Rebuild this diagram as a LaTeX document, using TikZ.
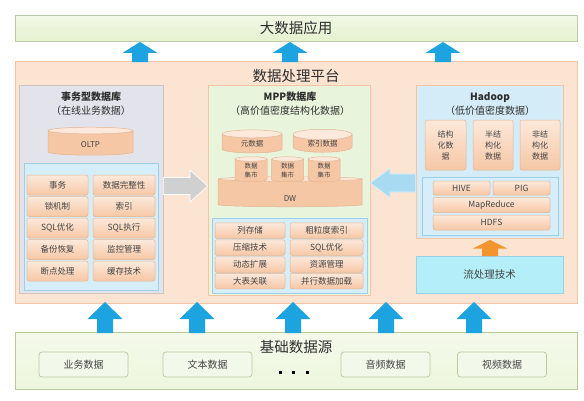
\documentclass[tikz,border=0pt]{standalone}
\usepackage{fontspec}
\setmainfont{Noto Sans CJK SC}
\usetikzlibrary{shapes.geometric,calc}
\definecolor{appgreen}{HTML}{E5F1CF}
\definecolor{appedge}{HTML}{BCCBA4}
\definecolor{platpeach}{HTML}{FCE4D3}
\definecolor{platedge}{HTML}{F1C5A6}
\definecolor{oltpgray}{HTML}{E3E3EB}
\definecolor{oltpedge}{HTML}{D3C3BE}
\definecolor{mppgreen}{HTML}{E8F4DC}
\definecolor{hdpblue}{HTML}{D4ECF8}
\definecolor{panelblue}{HTML}{D6EEF9}
\definecolor{paneledge}{HTML}{9CCFE8}
\definecolor{celltop}{HTML}{FCE9DB}
\definecolor{cellbot}{HTML}{F6C7A5}
\definecolor{celledge}{HTML}{E3B592}
\definecolor{arrowblue}{HTML}{1CA3E0}
\definecolor{arroworange}{HTML}{F3952F}
\definecolor{arrowlight}{HTML}{A8DBF2}
\definecolor{arrowgray}{HTML}{D0D0D0}
\definecolor{basegreen}{HTML}{EDF6DD}
\definecolor{srcfill}{HTML}{F3F9EA}
\definecolor{srcedge}{HTML}{B7CA9B}
\definecolor{txt}{HTML}{444444}
\definecolor{txtdark}{HTML}{2E2E2E}
\tikzset{
  layer/.style={line width=0.8pt, inner sep=0pt, draw=#1},
  layer/.default=platedge,
  panel/.style={draw=paneledge, fill=panelblue, line width=0.8pt, inner sep=0pt},
  cell/.style={draw=celledge, line width=0.5pt, top color=celltop, bottom color=cellbot,
    rounded corners=2pt, inner sep=0pt, text=txt, font=\fontsize{8.5}{10}\selectfont,
    minimum height=#1},
  cell/.default=20,
  cyl/.style={cylinder, shape border rotate=90, aspect=0.35, draw=celledge, line width=0.5pt,
    cylinder uses custom fill, cylinder body fill=cellbot, cylinder end fill=celltop,
    inner sep=0pt, text=txt, font=\fontsize{7.5}{10}\selectfont},
  bigtitle/.style={font=\fontsize{14.5}{16}\selectfont, text=txtdark, inner sep=0pt},
  dbtitle/.style={font=\fontsize{10}{14}\selectfont, align=center, text=txtdark, inner sep=0pt},
  srcbox/.style={draw=srcedge, fill=srcfill, line width=0.7pt, rounded corners=3pt,
    minimum width=89, minimum height=25, inner sep=0pt, text=txt, font=\fontsize{10}{12}\selectfont},
  blockup/.pic={\fill (-8,0) -- (-8,-14) -- (-17.5,-14) -- (0,-31) -- (17.5,-14) -- (8,-14)
    -- (8,0) -- cycle;},
}
\begin{document}
\begin{tikzpicture}[x=1pt,y=-1pt]
  \useasboundingbox[fill=white] (0,0) rectangle (584,400);

  \node[layer=appedge, top color=appgreen!50!white, bottom color=appgreen, minimum width=562,
    minimum height=26, bigtitle] (app) at (296,28) {大数据应用};
  \node[layer, fill=platpeach, minimum width=562, minimum height=242] (platform) at (296,182) {};
  \node[bigtitle] (plattitle) at (296,76) {数据处理平台};

  \node[layer=oltpedge, fill=oltpgray, minimum width=144, minimum height=208] (oltpdb) at (91,189) {};
  \node[dbtitle] (oltptitle) at (91,104) {\textbf{事务型数据库}\\（在线业务数据）};
  \node[cyl, minimum width=85, minimum height=28, font=\fontsize{8}{10}\selectfont] (oltp)
    at (90.5,143) {\smash{\raisebox{-4pt}{OLTP}}};
  \node[panel, minimum width=134, minimum height=127] (oltppanel) at (91,226.5) {};
  \node[cell, minimum width=61] (tx) at (57.5,185) {事务};
  \node[cell, minimum width=62] (integrity) at (124,185) {数据完整性};
  \node[cell, minimum width=61] (lock) at (57.5,206.5) {锁机制};
  \node[cell, minimum width=62] (index) at (124,206.5) {索引};
  \node[cell, minimum width=61] (sqlopt) at (57.5,228) {SQL优化};
  \node[cell, minimum width=62] (sqlexec) at (124,228) {SQL执行};
  \node[cell, minimum width=61] (backup) at (57.5,249.5) {备份恢复};
  \node[cell, minimum width=62] (monitor) at (124,249.5) {监控管理};
  \node[cell, minimum width=61] (resume) at (57.5,271) {断点处理};
  \node[cell, minimum width=62] (cache) at (124,271) {缓存技术};

  \node[layer, fill=mppgreen, minimum width=162, minimum height=210] (mppdb) at (289,190) {};
  \node[dbtitle] (mpptitle) at (290,104) {\textbf{MPP数据库}\\（高价值密度结构化数据）};
  \node[cyl, minimum width=60, minimum height=23] (meta) at (252,143.5) {\raisebox{-2pt}{元数据}};
  \node[cyl, minimum width=59, minimum height=23] (idxdata) at (322.5,143.5) {\raisebox{-2pt}{索引数据}};
  \node[cyl, minimum width=144, minimum height=30, font=\fontsize{8}{10}\selectfont] (dw)
    at (290,193) {\smash{\raisebox{-8pt}{DW}}};
  \node[cyl, minimum width=32, minimum height=25, align=center, font=\fontsize{6.5}{9}\selectfont]
    (mart1) at (251,170.5) {数据\\集市};
  \node[cyl, minimum width=32, minimum height=25, align=center, font=\fontsize{6.5}{9}\selectfont]
    (mart2) at (287.5,170.5) {数据\\集市};
  \node[cyl, minimum width=32, minimum height=25, align=center, font=\fontsize{6.5}{9}\selectfont]
    (mart3) at (324,170.5) {数据\\集市};
  \node[panel, minimum width=155, minimum height=75] (mpppanel) at (289.5,255.5) {};
  \node[cell=15.5, minimum width=70] (colstore) at (250,230.5) {列存储};
  \node[cell=15.5, minimum width=73] (coarseidx) at (326.5,230.5) {粗粒度索引};
  \node[cell=15.5, minimum width=70] (compress) at (250,247.5) {压缩技术};
  \node[cell=15.5, minimum width=73] (mppsql) at (326.5,247.5) {SQL优化};
  \node[cell=15.5, minimum width=70] (scale) at (250,264.5) {动态扩展};
  \node[cell=15.5, minimum width=73] (resource) at (326.5,264.5) {资源管理};
  \node[cell=15.5, minimum width=70] (bigjoin) at (250,281) {大表关联};
  \node[cell=15.5, minimum width=73] (parload) at (326.5,281) {并行数据加载};

  \node[layer, fill=hdpblue, minimum width=147, minimum height=153] (hadoop) at (489.5,161.5) {};
  \node[dbtitle] (hdptitle) at (490,104) {\textbf{Hadoop}\\（低价值密度数据）};
  \node[cell=50, minimum width=41, align=center, font=\fontsize{8}{11}\selectfont] (struct)
    at (445.5,145) {结构\\化数\\据};
  \node[cell=50, minimum width=40, align=center, font=\fontsize{8}{11}\selectfont] (semi)
    at (493,145) {半结\\构化\\数据};
  \node[cell=50, minimum width=40, align=center, font=\fontsize{8}{11}\selectfont] (unstruct)
    at (540,145) {非结\\构化\\数据};
  \node[panel, minimum width=136, minimum height=58] (hdppanel) at (490,206) {};
  \node[cell=14, minimum width=57] (hive) at (461.5,188) {HIVE};
  \node[cell=14, minimum width=57] (pig) at (521.5,188) {PIG};
  \node[cell=15, minimum width=117] (mapred) at (491.5,205) {MapReduce};
  \node[cell=15, minimum width=117] (hdfs) at (491.5,222.5) {HDFS};
  \node[panel, fill=hdpblue!85!cyan, minimum width=147, minimum height=37, text=txt,
    font=\fontsize{10.5}{12}\selectfont] (stream) at (489.5,274.5) {流处理技术};

  \fill[arrowgray, draw=white, line width=0.6pt] (oltpdb.east |- 0,177.5) -- (190,177.5)
    -- (190,170) -- (mppdb.west |- 0,186) -- (190,202) -- (190,194.5)
    -- (oltpdb.east |- 0,194.5) -- cycle;
  \fill[arrowlight, draw=hdpblue, line width=0.6pt] (hadoop.west |- 0,174) -- (390,174)
    -- (390,168.5) -- (mppdb.east |- 0,183) -- (390,197.5) -- (390,192)
    -- (hadoop.west |- 0,192) -- cycle;
  \pic[color=arroworange, yscale=0.52] at (490,256) {blockup};

  \node[layer=srcedge, top color=basegreen!60!white, bottom color=basegreen, minimum width=562,
    minimum height=57] (base) at (296,360.5) {};
  \node[bigtitle] (basetitle) at (296,347) {基础数据源};
  \node[srcbox] (bizdata) at (83.5,364.5) {业务数据};
  \node[srcbox] (textdata) at (207.5,364.5) {文本数据};
  \node[srcbox] (audiodata) at (385.5,364.5) {音频数据};
  \node[srcbox] (videodata) at (502,364.5) {视频数据};
  \fill[black] (278.5,370.5) rectangle ++(3,3);
  \fill[black] (291.5,370.5) rectangle ++(3,3);
  \fill[black] (305.5,370.5) rectangle ++(3,3);

  \pic[color=arrowblue, yscale=0.645] at (140,62) {blockup};
  \pic[color=arrowblue, yscale=0.645] at (290,62) {blockup};
  \pic[color=arrowblue, yscale=0.645] at (443,62) {blockup};
  \pic[color=arrowblue] at (105,333) {blockup};
  \pic[color=arrowblue] at (197,333) {blockup};
  \pic[color=arrowblue] at (293,333) {blockup};
  \pic[color=arrowblue] at (386,333) {blockup};
  \pic[color=arrowblue] at (474,333) {blockup};
\end{tikzpicture}
\end{document}
